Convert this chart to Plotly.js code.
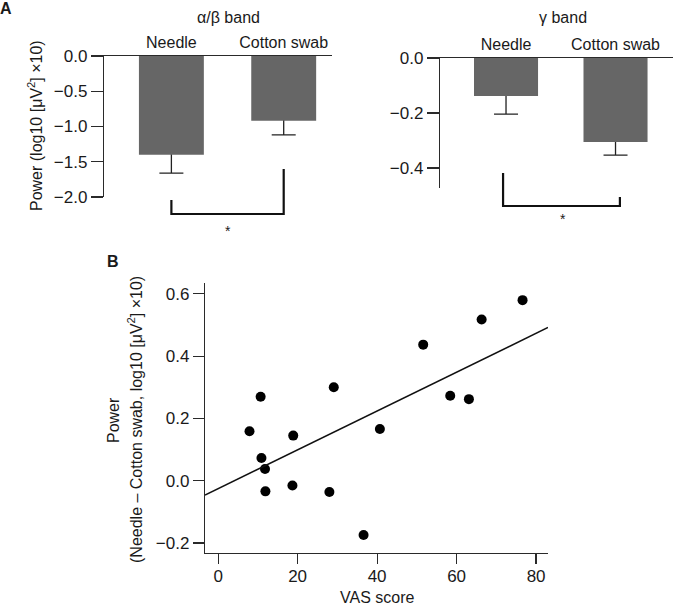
<!DOCTYPE html>
<html>
<head>
<meta charset="utf-8">
<script src="https://cdn.plot.ly/plotly-3.0.1.min.js"></script>
<style>html,body{margin:0;padding:0;background:#fff;}#chart{width:673px;height:605px;}</style>
</head>
<body>
<div id="chart"></div>
<script>
// ---- data ----
const categories = ['Needle', 'Cotton swab'];
const alphaBetaMean = [-1.40, -0.92];
const alphaBetaSem = [0.26, 0.20];
const gammaMean = [-0.138, -0.305];
const gammaSem = [0.066, 0.048];
const vasScore = [76.6, 66.3, 51.6, 29.1, 10.7, 58.4, 63.1, 7.9, 40.7, 18.9, 10.9, 11.8, 11.9, 18.7, 28.0, 36.6];
const powerDiff = [0.58, 0.518, 0.437, 0.30, 0.27, 0.273, 0.262, 0.159, 0.166, 0.145, 0.073, 0.038, -0.034, -0.015, -0.036, -0.174];
const fitX = [-3.3, 83.0];
const fitY = [-0.046, 0.492];
const panelTitles = ['\u03b1/\u03b2 band', '\u03b3 band'];

// ---- helpers ----
const W = 673, H = 605;
const px = v => v / W;
const py = v => 1 - v / H;
const FONT = 'Liberation Sans, Arial, Helvetica, sans-serif';
const TXT = '#1a1a1a';
const AX = '#2a2a2a';
const BAR = '#666666';

// upward half of each error bar is hidden under its bar (bars sit on an overlaid axis)
const errTrace = (xa, ya, means, sems, hidden) => ({
  type: 'scatter', mode: 'markers', x: categories, y: means,
  xaxis: xa, yaxis: ya, marker: {size: 1, opacity: 0}, hoverinfo: 'skip', showlegend: false,
  error_y: {type: 'data', symmetric: false, array: [hidden, hidden], arrayminus: sems,
            width: 12, thickness: 1.3, color: '#222'}
});
const barTrace = (xa, ya, means, w) => ({
  type: 'bar', x: categories, y: means, xaxis: xa, yaxis: ya, width: w,
  marker: {color: BAR, line: {width: 0}}, showlegend: false, hoverinfo: 'skip'
});

const data = [
  errTrace('x', 'y', alphaBetaMean, alphaBetaSem, 0.1),
  barTrace('x', 'y4', alphaBetaMean, 0.578),
  errTrace('x2', 'y2', gammaMean, gammaSem, 0.03),
  barTrace('x2', 'y5', gammaMean, 0.585),
  {type: 'scatter', mode: 'markers', x: vasScore, y: powerDiff, xaxis: 'x3', yaxis: 'y3',
   marker: {color: '#000', size: 10}, showlegend: false, cliponaxis: false},
  {type: 'scatter', mode: 'lines', x: fitX, y: fitY, xaxis: 'x3', yaxis: 'y3',
   line: {color: '#111', width: 1.5}, showlegend: false}
];

const baseY = {
  showline: true, linecolor: AX, linewidth: 1.2, ticks: 'outside', ticklen: 12,
  tickwidth: 1.2, tickcolor: AX, showgrid: false, zeroline: false,
  tickfont: {family: FONT, size: 17, color: TXT}, tickformat: '.1f', fixedrange: true
};
const topX = {
  type: 'category', side: 'top', showline: true, linecolor: AX, linewidth: 1.2,
  ticks: '', showgrid: false, zeroline: false,
  tickfont: {family: FONT, size: 16, color: TXT}, fixedrange: true
};
const hiddenY = {showline: false, showticklabels: false, ticks: '', showgrid: false, zeroline: false};

const ann = (text, x, y, size, extra) => Object.assign({
  text: text, x: px(x), y: py(y), xref: 'paper', yref: 'paper', showarrow: false,
  xanchor: 'center', yanchor: 'middle', font: {family: FONT, size: size, color: TXT}
}, extra || {});

const layout = {
  width: W, height: H, margin: {l: 0, r: 0, t: 0, b: 0},
  paper_bgcolor: '#fff', plot_bgcolor: 'rgba(0,0,0,0)', showlegend: false,
  xaxis: Object.assign({}, topX, {domain: [px(104), px(332)], range: [-0.6, 1.43], anchor: 'y'}),
  yaxis: Object.assign({}, baseY, {domain: [1 - 197 / H, 1 - 56 / H], range: [-2.0, 0],
                                    tickvals: [-2, -1.5, -1, -0.5, 0], anchor: 'x'}),
  yaxis4: Object.assign({}, hiddenY, {overlaying: 'y', range: [-2.0, 0], anchor: 'x'}),
  xaxis2: Object.assign({}, topX, {domain: [px(440), 1], range: [-0.603, 1.525], anchor: 'y2'}),
  yaxis2: Object.assign({}, baseY, {domain: [1 - 188 / H, 1 - 58 / H], range: [-0.4727, 0],
                                     tickvals: [-0.4, -0.2, 0], anchor: 'x2'}),
  yaxis5: Object.assign({}, hiddenY, {overlaying: 'y2', range: [-0.4727, 0], anchor: 'x2'}),
  xaxis3: {domain: [px(205), px(548)], range: [-3.3, 83.0], anchor: 'y3',
           showline: true, linecolor: AX, linewidth: 1.2, ticks: 'outside', ticklen: 10,
           tickwidth: 1.2, tickcolor: AX, showgrid: false, zeroline: false,
           tickvals: [0, 20, 40, 60, 80], ticklabelstandoff: -3,
           tickfont: {family: FONT, size: 17, color: TXT}, fixedrange: true},
  yaxis3: Object.assign({}, baseY, {domain: [1 - 553 / H, 1 - 283 / H], range: [-0.232, 0.635],
                                     tickvals: [-0.2, 0, 0.2, 0.4, 0.6], ticklen: 11, anchor: 'x3'}),
  shapes: [
    {type: 'path', xref: 'x', yref: 'paper',
     path: 'M 0 ' + py(200) + ' L 0 ' + py(214) + ' L 1 ' + py(214) + ' L 1 ' + py(169),
     line: {color: '#111', width: 2.2}},
    {type: 'path', xref: 'x2', yref: 'paper',
     path: 'M -0.027 ' + py(173) + ' L -0.027 ' + py(206) + ' L 1.04 ' + py(206) + ' L 1.04 ' + py(197),
     line: {color: '#111', width: 2.2}}
  ],
  annotations: [
    ann('<b>A</b>', 6, 8, 16),
    ann('<b>B</b>', 113, 261, 16),
    ann(panelTitles[0], 228, 18, 16),
    ann(panelTitles[1], 563, 18, 16),
    ann('*', 228, 231, 14),
    ann('*', 563, 219, 14),
    ann('Power (log10 [\u03bcV<sup>2</sup>] \u00d710)', 35, 126, 16, {textangle: -90}),
    ann('Power', 113, 420, 16, {textangle: -90}),
    ann('(Needle \u2013 Cotton swab, log10 [\u03bcV<sup>2</sup>] \u00d710)', 135, 420, 16, {textangle: -90}),
    ann('VAS score', 377, 597, 16)
  ]
};

Plotly.newPlot('chart', data, layout, {displayModeBar: false, staticPlot: true});
</script>
</body>
</html>
